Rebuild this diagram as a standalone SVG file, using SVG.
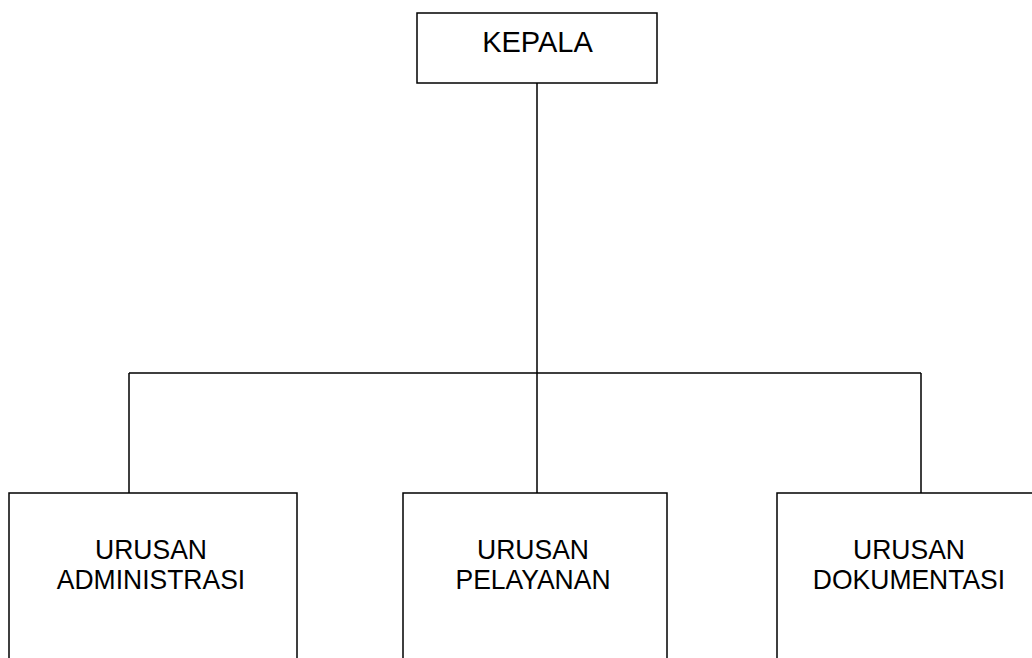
<svg xmlns="http://www.w3.org/2000/svg" width="1032" height="658" viewBox="0 0 1032 658">
<style>
.box{fill:#fff;stroke:#000;stroke-width:1.5}
.ln{fill:none;stroke:#000;stroke-width:1.5}
.t{font-family:"Liberation Sans",Arial,sans-serif;font-size:26.5px;fill:#000;text-anchor:middle}
.tk{font-size:29px}
</style>
<rect width="1032" height="658" fill="#fff"/>
<g id="connectors">
<path class="ln" d="M537,83 V373 M129,373 H921 M129,373 V493 M537,373 V493 M921,373 V493"/>
</g>
<g id="kepala">
<rect class="box" x="417" y="13" width="240" height="70"/>
<text class="t tk" x="537.5" y="51.5">KEPALA</text>
</g>
<g id="administrasi">
<rect class="box" x="9" y="493" width="288" height="170"/>
<text class="t" transform="translate(151,559) scale(1,1.05)">URUSAN</text>
<text class="t" transform="translate(151,589) scale(1,1.05)">ADMINISTRASI</text>
</g>
<g id="pelayanan">
<rect class="box" x="403" y="493" width="264" height="170"/>
<text class="t" transform="translate(533,559) scale(1,1.05)">URUSAN</text>
<text class="t" transform="translate(533,589) scale(1,1.05)">PELAYANAN</text>
</g>
<g id="dokumentasi">
<rect class="box" x="777" y="493" width="270" height="170"/>
<text class="t" transform="translate(909,559) scale(1,1.05)">URUSAN</text>
<text class="t" transform="translate(909,589) scale(1,1.05)">DOKUMENTASI</text>
</g>
</svg>
